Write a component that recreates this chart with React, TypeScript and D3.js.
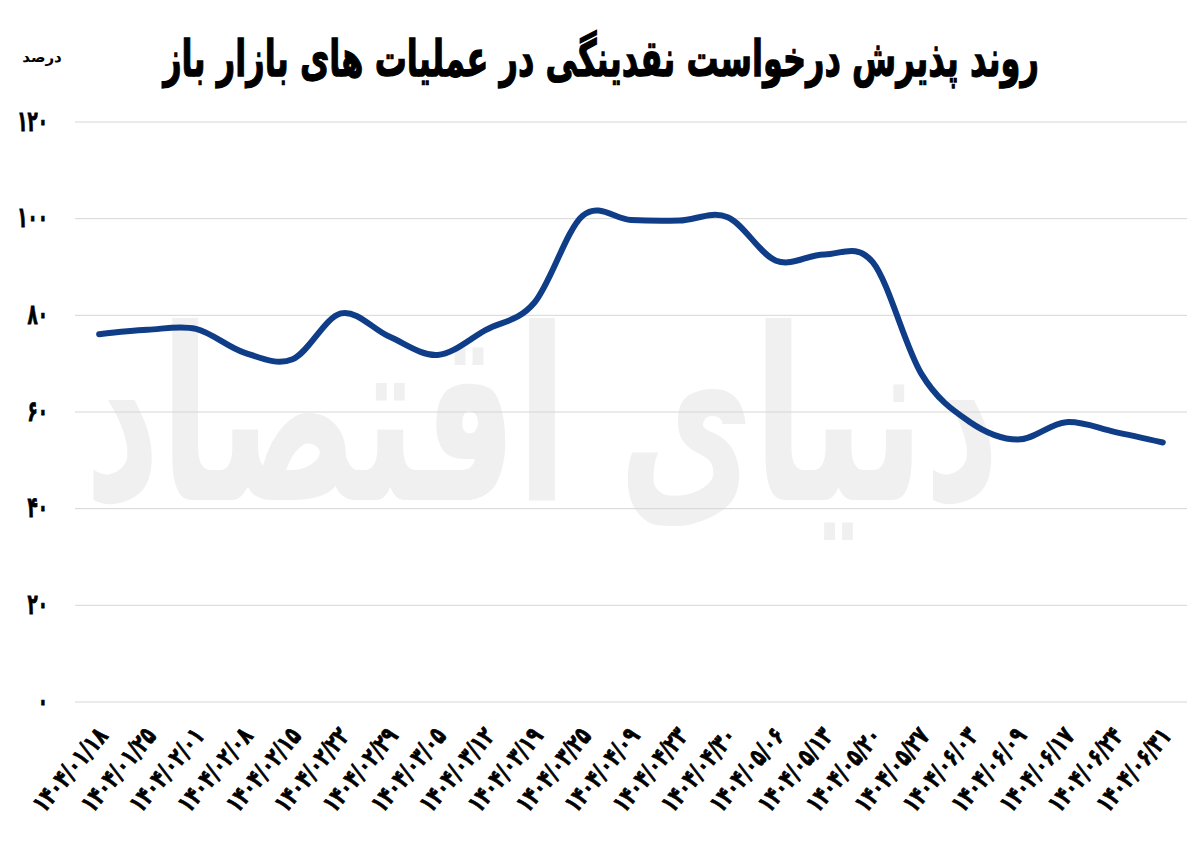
import React, { useLayoutEffect, useRef } from 'react';
import * as d3 from 'd3';

const dates: string[] = [
  '۱۴۰۴/۰۱/۱۸', '۱۴۰۴/۰۱/۲۵', '۱۴۰۴/۰۲/۰۱', '۱۴۰۴/۰۲/۰۸', '۱۴۰۴/۰۲/۱۵',
  '۱۴۰۴/۰۲/۲۲', '۱۴۰۴/۰۲/۲۹', '۱۴۰۴/۰۳/۰۵', '۱۴۰۴/۰۳/۱۲', '۱۴۰۴/۰۳/۱۹',
  '۱۴۰۴/۰۳/۲۵', '۱۴۰۴/۰۴/۰۹', '۱۴۰۴/۰۴/۲۳', '۱۴۰۴/۰۴/۳۰', '۱۴۰۴/۰۵/۰۶',
  '۱۴۰۴/۰۵/۱۳', '۱۴۰۴/۰۵/۲۰', '۱۴۰۴/۰۵/۲۷', '۱۴۰۴/۰۶/۰۳', '۱۴۰۴/۰۶/۰۹',
  '۱۴۰۴/۰۶/۱۷', '۱۴۰۴/۰۶/۲۴', '۱۴۰۴/۰۶/۳۱',
];

const acceptance: number[] = [
  76.1, 77.0, 77.2, 72.3, 70.9, 80.4, 75.6, 71.8, 77.0, 82.6,
  100.6, 99.7, 99.6, 100.3, 91.3, 92.6, 91.0, 68.0, 58.0, 54.3,
  57.9, 55.9, 53.7,
];

const yTicks: number[] = [0, 20, 40, 60, 80, 100, 120];
const yTickLabels: string[] = ['۰', '۲۰', '۴۰', '۶۰', '۸۰', '۱۰۰', '۱۲۰'];

const title = 'روند پذیرش درخواست نقدینگی در عملیات های بازار باز';
const unitLabel = 'درصد';
const watermark = 'دنیای اقتصاد';

const W = 1200;
const H = 859;
const plotLeft = 75;
const plotRight = 1187;
const plotTop = 122;
const plotBottom = 702;
const FONT = "'DejaVu Sans', sans-serif";

export default function App() {
  const titleRef = useRef<SVGTextElement>(null);
  const wmRef = useRef<SVGTextElement>(null);

  const x = d3.scaleBand<string>().domain(dates).range([plotLeft, plotRight]).padding(0);
  const y = d3.scaleLinear().domain([0, 120]).range([plotBottom, plotTop]);
  const cx = (d: string) => (x(d) as number) + x.bandwidth() / 2;

  const line = d3
    .line<number>()
    .x((_, i) => cx(dates[i]))
    .y((v) => y(v))
    .curve(d3.curveCatmullRom.alpha(0));

  useLayoutEffect(() => {
    const fit = (el: SVGTextElement | null, target: number, ox: number, oy: number, sy: number) => {
      if (!el) return;
      const len = el.getComputedTextLength();
      if (len > 0) {
        const s = target / len;
        el.setAttribute('transform', `translate(${ox},${oy}) scale(${s},${sy})`);
      }
    };
    fit(titleRef.current, 876, 601, 76, 1.4);
    fit(wmRef.current, 915, 542, 500, 1.6);
  }, []);

  return (
    <svg
      width={W}
      height={H}
      style={{ position: 'absolute', left: 0, top: 0, background: '#fff' }}
      xmlns="http://www.w3.org/2000/svg"
    >
      <rect x={0} y={0} width={W} height={H} fill="#fff" />

      {/* watermark */}
      <text
        ref={wmRef}
        x={0}
        y={0}
        textAnchor="middle"
        fontFamily={FONT}
        fontWeight="bold"
        fontSize={150}
        fill="#f0f0f0"
        direction="rtl"
        transform="translate(542,500)"
      >
        {watermark}
      </text>

      {/* gridlines */}
      <g>
        {yTicks.map((t) => (
          <line
            key={t}
            x1={plotLeft}
            x2={plotRight}
            y1={y(t)}
            y2={y(t)}
            stroke="#d6d6d6"
            strokeWidth={1}
          />
        ))}
      </g>

      {/* y tick labels */}
      <g>
        {yTicks.map((t, i) => (
          <text
            key={t}
            transform={`translate(48,${y(t)}) scale(0.8,1.35)`}
            dy="0.3em"
            textAnchor="end"
            fontFamily={FONT}
            fontWeight="bold"
            fontSize={21}
            fill="#000"
            stroke="#000"
            strokeWidth={0.6}
          >
            {yTickLabels[i]}
          </text>
        ))}
      </g>

      {/* x tick labels */}
      <g>
        {dates.map((d) => (
          <text
            key={d}
            transform={`translate(${cx(d) + 3},${731}) rotate(-50) scale(1,1.4)`}
            dy="0.35em"
            textAnchor="end"
            fontFamily={FONT}
            fontWeight="bold"
            fontSize={18}
            fill="#000"
            stroke="#000"
            strokeWidth={0.6}
            direction="ltr"
          >
            {d}
          </text>
        ))}
      </g>

      {/* line */}
      <path
        d={line(acceptance) || ''}
        fill="none"
        stroke="#0f3d87"
        strokeWidth={6}
        strokeLinecap="round"
        strokeLinejoin="round"
      />

      {/* title */}
      <text
        ref={titleRef}
        x={0}
        y={0}
        textAnchor="middle"
        fontFamily={FONT}
        fontWeight="bold"
        fontSize={36}
        fill="#000"
        stroke="#000"
        strokeWidth={0.9}
        direction="rtl"
        transform="translate(601,76)"
      >
        {title}
      </text>

      {/* unit */}
      <text
        x={42}
        y={62}
        textAnchor="middle"
        fontFamily={FONT}
        fontWeight="bold"
        fontSize={15}
        fill="#000"
        direction="rtl"
      >
        {unitLabel}
      </text>
    </svg>
  );
}
